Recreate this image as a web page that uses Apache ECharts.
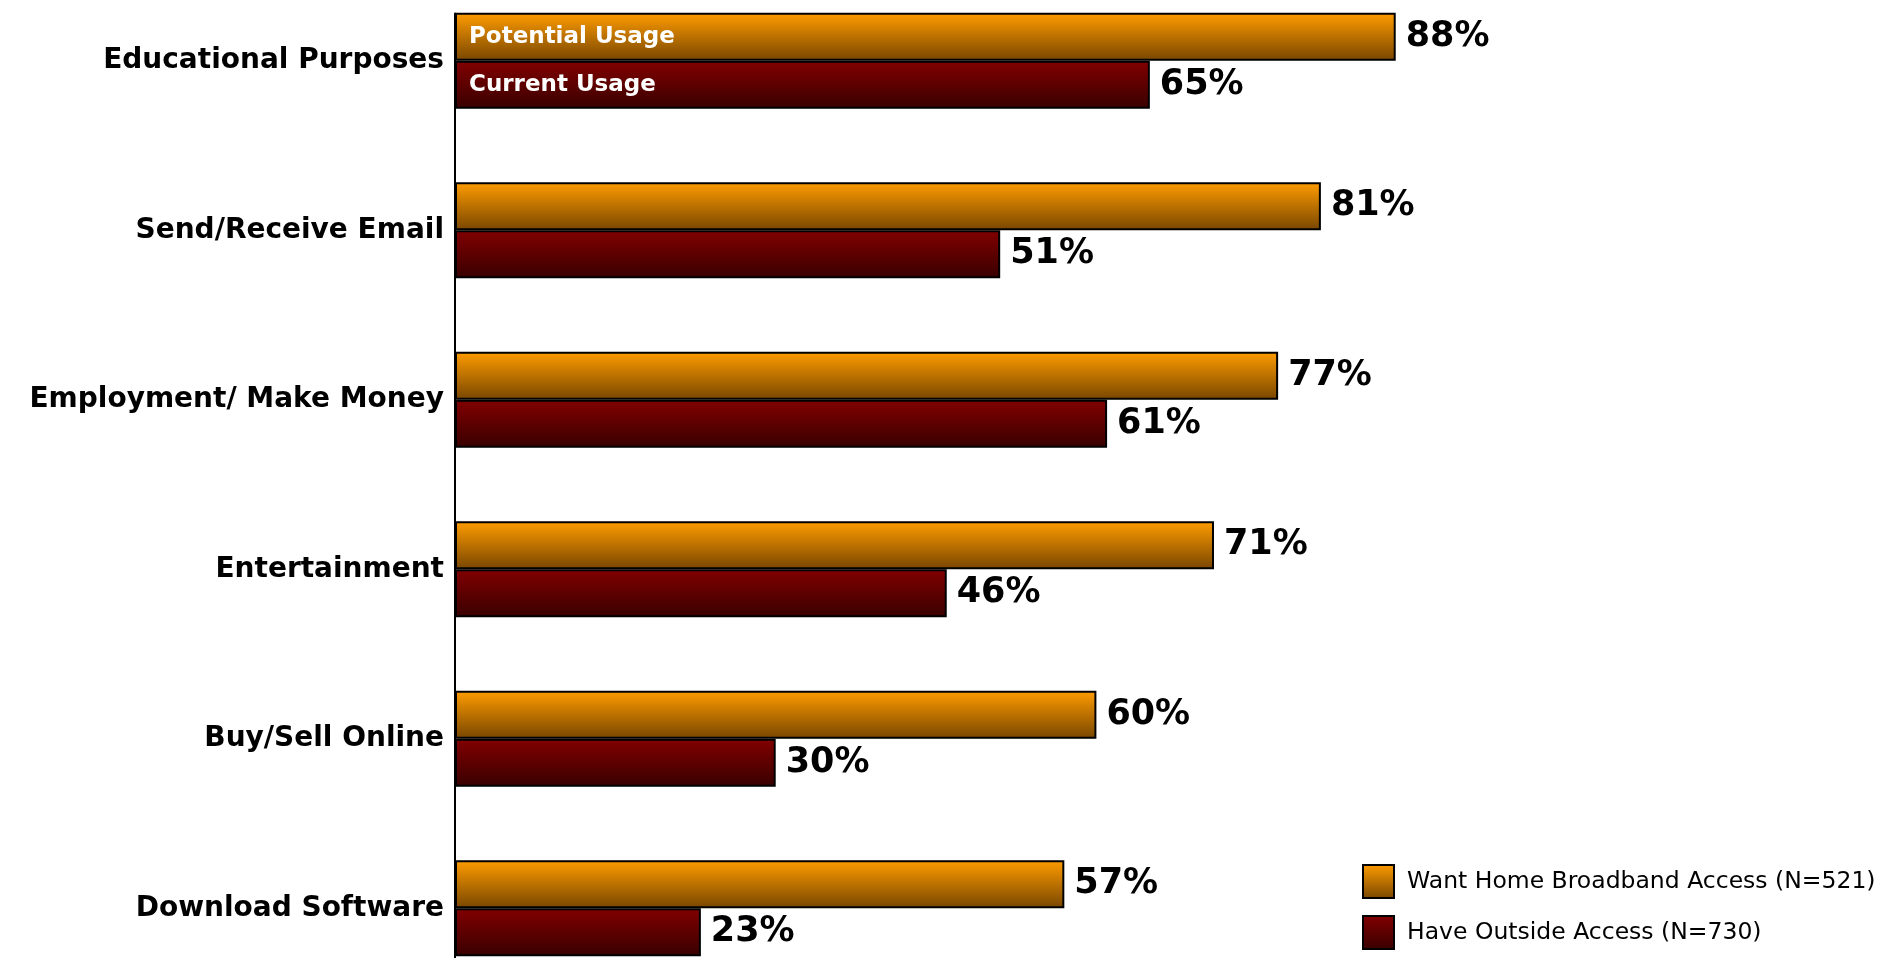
<!DOCTYPE html>
<html>
<head>
<meta charset="utf-8">
<script src="https://cdn.jsdelivr.net/npm/echarts@6/dist/echarts.min.js"></script>
<style>
html,body{margin:0;padding:0;background:#fff;overflow:hidden;width:1896px;height:958px;position:relative;}
#chart{position:absolute;left:0;top:-24px;width:1896px;height:1060px;}
</style>
</head>
<body>
<div id="chart"></div>
<script>
const categories = ['Educational Purposes','Send/Receive Email','Employment/ Make Money','Entertainment','Buy/Sell Online','Download Software'];
const wantValues = [88, 81, 77, 71, 60, 57];
const haveValues = [65, 51, 61, 46, 30, 23];
const seriesNames = ['Want Home Broadband Access (N=521)', 'Have Outside Access (N=730)'];
const innerLabels = ['Potential Usage', 'Current Usage'];

const chart = echarts.init(document.getElementById('chart'));
const SHIFT = 24;
const BAR_W = 48;
const wantColor = new echarts.graphic.LinearGradient(0,0,0,1,[{offset:0,color:'#FF9C00'},{offset:1,color:'#784600'}]);
const haveColor = new echarts.graphic.LinearGradient(0,0,0,1,[{offset:0,color:'#820000'},{offset:1,color:'#380000'}]);

function mainData(vals, txt){
  return vals.map((v,i)=> i===0 ? {value:v, label:{show:true, formatter: txt}} : v);
}
const innerLabel = {show:false, position:'insideLeft', distance:14, color:'#fff', fontFamily:'DejaVu Sans', fontWeight:'bold', fontSize:23};
const valLabel = (vals)=>({show:true, position:'right', distance:10, color:'#000', fontFamily:'DejaVu Sans', fontWeight:'bold', fontSize:35, formatter:(p)=> vals[p.dataIndex] + '%'});

const option = {
  animation:false,
  backgroundColor:'#fff',
  grid:{left:455, top:0, width:1069, height:1017, containLabel:false},
  xAxis:{type:'value', min:0, max:100, show:false},
  yAxis:{type:'category', data:categories, inverse:true,
    axisLine:{show:false}, axisTick:{show:false},
    axisLabel:{margin:11, color:'#000', fontFamily:'DejaVu Sans', fontWeight:'bold', fontSize:28}},
  legend:{orient:'vertical', left:1362, top:864 + SHIFT, itemWidth:31, itemHeight:33, itemGap:16, padding:0,
    data:seriesNames, icon:'rect',
    itemStyle:{borderColor:'#000', borderWidth:2},
    textStyle:{fontFamily:'DejaVu Sans', fontSize:23.5, color:'#000', padding:[10,0,0,8]}},
  series:[
    {name:seriesNames[0], type:'bar', stack:'a', barWidth:BAR_W, barGap:'0%', barCategoryGap:'0%',
     data:mainData(wantValues, innerLabels[0]),
     itemStyle:{color:wantColor, borderColor:'#000', borderWidth:2}, label:innerLabel},
    {name:'wantLbl', type:'bar', stack:'a', barWidth:BAR_W, data:wantValues.map(()=>0),
     itemStyle:{color:'transparent', borderWidth:0}, label:valLabel(wantValues)},
    {name:seriesNames[1], type:'bar', stack:'b', barWidth:BAR_W,
     data:mainData(haveValues, innerLabels[1]),
     itemStyle:{color:haveColor, borderColor:'#000', borderWidth:2}, label:innerLabel},
    {name:'haveLbl', type:'bar', stack:'b', barWidth:BAR_W, data:haveValues.map(()=>0),
     itemStyle:{color:'transparent', borderWidth:0}, label:valLabel(haveValues)}
  ]
};
chart.setOption(option);
const x0 = chart.convertToPixel({xAxisIndex:0}, 0);
const yTop = chart.convertToPixel({yAxisIndex:0}, categories[0]) - BAR_W;
chart.setOption({graphic:[{type:'line', z:100, shape:{x1:x0, y1:yTop, x2:x0, y2:1060}, style:{stroke:'#000', lineWidth:2}}]});
</script>
</body>
</html>
